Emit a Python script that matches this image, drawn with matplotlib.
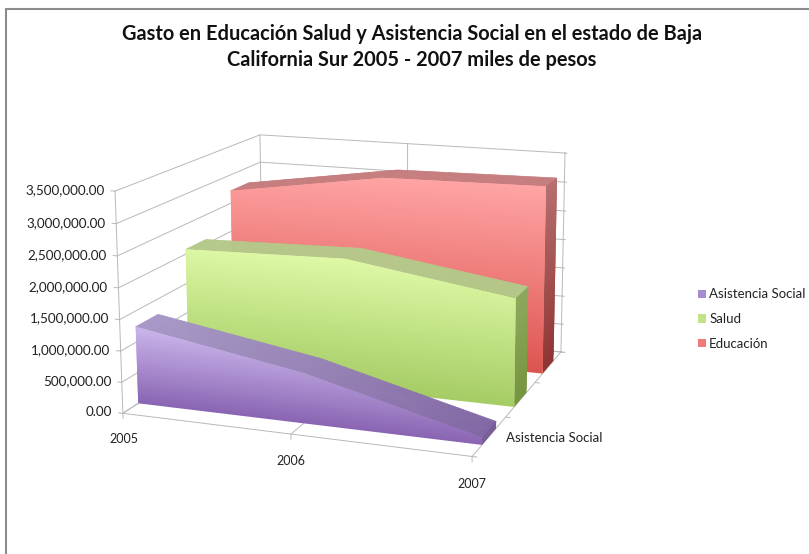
import numpy as np
import matplotlib
matplotlib.use("Agg")
import matplotlib.pyplot as plt
from matplotlib.colors import to_rgb
from matplotlib.patches import Patch, Rectangle
from mpl_toolkits.mplot3d import proj3d
from mpl_toolkits.mplot3d.art3d import Poly3DCollection

plt.rcParams['font.family'] = ['Lato', 'DejaVu Sans']

years = ["2005", "2006", "2007"]
series = ["Asistencia Social", "Salud", "Educación"]
asistencia = [1250000, 800000, 110000]
salud = [2080000, 2150000, 1750000]
educacion = [2720000, 3130000, 3170000]
value_ticks = [0, 500000, 1000000, 1500000, 2000000, 2500000, 3000000, 3500000]

# front, top and side colours of each slab as (low, high) pairs
front_cols = [("#8a65b3", "#cbb7ec"), ("#a5cc65", "#dff9a6"), ("#dd5550", "#ffa5a5")]
top_cols = [("#7d62a0", "#a797c6"), ("#b0c485", "#b5c98a"), ("#c47a7b", "#c67c7d")]
side_cols = [("#6c4f8e", "#7a609c"), ("#76953f", "#93ad65"), ("#8f3533", "#b77070")]
legend_cols = ["#a58cd0", "#bfe385", "#ee7b78"]

W, H = 809, 554
fig = plt.figure(figsize=(W / 100, H / 100), dpi=100)
fig.add_artist(Rectangle((5.5 / W, -0.1), 2, 1.1 - 9.5 / H, transform=fig.transFigure,
                         fc="none", ec="#8c8c8c", lw=1.5))
fig.text(412 / W, 1 - 34 / H, "Gasto en Educación Salud y Asistencia Social en el estado de Baja",
         ha="center", va="center", fontsize=14.4, fontweight="bold", color="#111111")
fig.text(412 / W, 1 - 60 / H, "California Sur 2005 - 2007 miles de pesos",
         ha="center", va="center", fontsize=14.4, fontweight="bold", color="#111111")

# square axes as wide as the figure, so nothing gets clipped
ax = fig.add_axes([0, (H - W) / 2 / H, 1, W / H], projection="3d", computed_zorder=False)
ax.set_axis_off()

# where the chart box corners sit on the canvas: (category, depth, millions) -> pixel
box_corners = [(0, 0, 0), (0, 0, 3.5), (0, 3, 0), (0, 3, 3.5), (2, 3, 0), (2, 3, 3.5), (2, 0, 0), (1, 0, 0)]
box_pixels = [(123, 413), (115, 191), (263, 322), (260, 135), (561, 352), (565, 153), (472, 456), (291, 435)]


def box_proj():
    # perspective camera solved from the box corners
    pix = np.array(box_pixels, dtype=float)
    pix[:, 1] = H - pix[:, 1]
    view = ax.transData.inverted().transform(pix)
    rows = []
    for corner, (u, v) in zip(box_corners, view):
        p = list(corner) + [1]
        rows.append(p + [0, 0, 0, 0] + [-u * c for c in p])
        rows.append([0, 0, 0, 0] + p + [-v * c for c in p])
    h = np.linalg.svd(np.array(rows))[2][-1].reshape(3, 4)
    return np.array([h[0], h[1], [0, -1, 0, 0], h[2]])


ax.get_proj = box_proj


def ramp(pair, t):
    low, high = np.array(to_rgb(pair[0])), np.array(to_rgb(pair[1]))
    return tuple(low + (high - low) * np.clip(t, 0, 1))


def add_polys(polys, cols, zorder, edges=True):
    col = Poly3DCollection(polys, facecolors=cols, edgecolors=cols if edges else "none",
                           linewidths=0.4 if edges else 0)
    col.set_zorder(zorder)
    ax.add_collection3d(col)


def draw_slab(values, depth, idx):
    d0, d1 = depth + 0.28, depth + 0.70
    z = np.array(values) / 1e6
    zmax = z.max()
    xs = np.linspace(0, 2, 121)
    prof = np.interp(xs, range(len(z)), z)
    base = 10 + 10 * (2 - depth)

    # top surface, shaded by height
    polys, cols = [], []
    for i in range(len(xs) - 1):
        polys.append([(xs[i], d0, prof[i]), (xs[i + 1], d0, prof[i + 1]),
                      (xs[i + 1], d1, prof[i + 1]), (xs[i], d1, prof[i])])
        cols.append(ramp(top_cols[idx], prof[i] / zmax))
    add_polys(polys, cols, base)

    # right side wall as height bands, each overlapping the next so no seams show
    levels = np.linspace(0, z[-1], 31)
    step = levels[1] - levels[0]
    for k, a in enumerate(levels[:-1]):
        b = min(a + 2 * step, z[-1])
        poly = [(2, d0, a), (2, d1, a), (2, d1, b), (2, d0, b)]
        add_polys([poly], [ramp(side_cols[idx], a / zmax)], base + 1 + k / 100, edges=False)

    # front face the same way, for the vertical gradient
    levels = np.linspace(0, zmax, 61)
    step = levels[1] - levels[0]
    for k, a in enumerate(levels[:-1]):
        keep = prof > a
        x_in = xs[keep]
        top_in = np.minimum(prof[keep], a + 2 * step)
        poly = [(x, d0, a) for x in x_in] + [(x, d0, t) for x, t in zip(x_in[::-1], top_in[::-1])]
        add_polys([poly], [ramp(front_cols[idx], a / zmax)], base + 2 + k / 100, edges=False)


def label(x, y, z, text, **kw):
    # place a text at a chart position, on the figure
    ax.apply_aspect()
    u, v, _ = proj3d.proj_transform(x, y, z, box_proj())
    px, py = ax.transData.transform((u, v))
    fig.text(px / W, py / H, text, va="center", color="#222222", **kw)


grid = dict(color="#b8b8b8", lw=0.7, zorder=1)
for v in value_ticks:
    m = v / 1e6
    ax.plot([0, 0, 2], [0, 3, 3], [m, m, m], **grid)
    ax.plot([-0.025, 0], [0, 0], [m, m], **grid)
    ax.plot([2, 2.012], [3, 3], [m, m], **grid)
    label(-0.065, 0, m, f"{v:,.2f}", ha="right", fontsize=9.7)
ax.plot([0, 0], [0, 0], [0, 3.5], **grid)
ax.plot([0, 0], [3, 3], [0, 3.5], **grid)
ax.plot([1, 1], [3, 3], [0, 3.5], **grid)
ax.plot([2, 2], [3, 3], [0, 3.5], **grid)
ax.plot([0, 2, 2, 0, 0], [0, 0, 3, 3, 0], [0, 0, 0, 0, 0], **grid)
ax.plot([1, 1], [0, 3], [0, 0], **grid)

for i, year in enumerate(years):
    ax.plot([i, i], [0, 0], [0, -0.08], **grid)
    label(i, 0, -0.42, year, ha="center", fontsize=9)
for d in range(4):
    ax.plot([2, 2.025], [d, d], [0, 0], **grid)
label(2.09, 0.5, 0, series[0], ha="left", fontsize=9.5)

draw_slab(educacion, 2, 2)
draw_slab(salud, 1, 1)
draw_slab(asistencia, 0, 0)

handles = [Patch(facecolor=c, edgecolor="none") for c in legend_cols]
fig.legend(handles, series, loc="center left", bbox_to_anchor=(698 / W, 1 - 319 / H), frameon=False,
           fontsize=9.5, handlelength=0.6, handleheight=0.6, handletextpad=0.25, labelspacing=0.95,
           labelcolor="#222222", borderpad=0, borderaxespad=0)

fig.savefig("out.png", dpi=100)
